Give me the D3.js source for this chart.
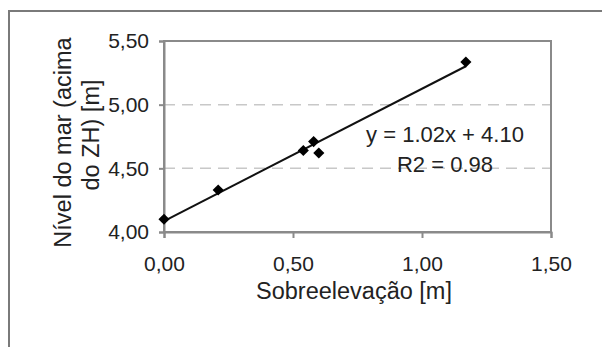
<!DOCTYPE html>
<html>
<head>
<meta charset="utf-8">
<script src="https://cdn.jsdelivr.net/npm/d3@7"></script>
<style>
  body { margin: 0; background: #fff; }
  text { font-family: "Liberation Sans", Arial, sans-serif; fill: #222; }
</style>
</head>
<body>
<svg id="chart" width="602" height="347"></svg>
<script>
// dados
const sobreelevacao = [0.00, 0.21, 0.54, 0.58, 0.60, 1.17]
const nivelMar = [4.10, 4.33, 4.64, 4.71, 4.62, 5.335]
const xTicks = [0, 0.5, 1.0, 1.5]
const yTicks = [4.0, 4.5, 5.0, 5.5]
const gridValues = [4.5, 5.0]
const equationLines = ['y = 1.02x + 4.10', 'R2 = 0.98']

const W = 602
const H = 347
const margin = { left: 164, top: 41, right: 51, bottom: 115 }
const fmt = v => d3.format('.2f')(v).replace('.', ',')

const svg = d3.select('#chart')

// moldura externa (só topo e esquerda visíveis)
svg.append('path')
  .attr('d', `M9,${H}V11H${W}`)
  .attr('fill', 'none')
  .attr('stroke', '#7a7a7a')
  .attr('stroke-width', 2)

const x = d3.scaleLinear().domain([0, 1.5]).range([margin.left, W - margin.right])
const y = d3.scaleLinear().domain([4.0, 5.5]).range([H - margin.bottom, margin.top])

const g = svg.append('g')

// linhas de grade tracejadas
g.selectAll('line.grid').data(gridValues)
  .join('line')
  .attr('class', 'grid')
  .attr('x1', x(0)).attr('x2', x(1.5))
  .attr('y1', d => y(d)).attr('y2', d => y(d))
  .attr('stroke', '#c8c8c8')
  .attr('stroke-width', 1.5)
  .attr('stroke-dasharray', '11,7')

// borda da área do gráfico
g.append('rect')
  .attr('x', x(0)).attr('y', y(5.5))
  .attr('width', x(1.5) - x(0)).attr('height', y(4.0) - y(5.5))
  .attr('fill', 'none')
  .attr('stroke', '#8a8a8a')
  .attr('stroke-width', 2)

// eixos
const xAxis = g.append('g')
  .attr('transform', `translate(0,${y(4.0)})`)
  .call(d3.axisBottom(x).tickValues(xTicks).tickSize(6).tickFormat(fmt))
const yAxis = g.append('g')
  .attr('transform', `translate(${x(0)},0)`)
  .call(d3.axisLeft(y).tickValues(yTicks).tickSize(5).tickPadding(10).tickFormat(fmt))

;[xAxis, yAxis].forEach(a => {
  a.select('.domain').attr('stroke', '#8a8a8a').attr('stroke-width', 2)
  a.selectAll('.tick line').attr('stroke', '#8a8a8a').attr('stroke-width', 2)
  a.selectAll('.tick text')
    .attr('font-family', '"Liberation Sans", Arial, sans-serif')
    .attr('font-size', 21)
    .attr('fill', '#222')
})
xAxis.selectAll('.tick text').attr('y', 39).attr('dy', 0)

// linha de tendência (mínimos quadrados)
const mx = d3.mean(sobreelevacao)
const my = d3.mean(nivelMar)
const slope = d3.sum(sobreelevacao, (v, i) => (v - mx) * (nivelMar[i] - my)) /
  d3.sum(sobreelevacao, v => (v - mx) * (v - mx))
const intercept = my - slope * mx
const xExt = d3.extent(sobreelevacao)
g.append('line')
  .attr('x1', x(xExt[0])).attr('y1', y(intercept + slope * xExt[0]))
  .attr('x2', x(xExt[1])).attr('y2', y(intercept + slope * xExt[1]))
  .attr('stroke', '#111')
  .attr('stroke-width', 2)

// pontos (losangos)
const diamond = d3.symbol().type(d3.symbolSquare).size(62)
g.selectAll('path.pt').data(sobreelevacao)
  .join('path')
  .attr('class', 'pt')
  .attr('d', diamond)
  .attr('transform', (d, i) => `translate(${x(d)},${y(nivelMar[i])}) rotate(45)`)
  .attr('fill', '#000')

// equação
svg.append('text')
  .attr('x', 445).attr('y', 142)
  .attr('text-anchor', 'middle')
  .attr('font-size', 22)
  .selectAll('tspan').data(equationLines)
  .join('tspan')
  .attr('x', 445)
  .attr('dy', (d, i) => i === 0 ? 0 : 30)
  .text(d => d)

// títulos dos eixos
svg.append('text')
  .attr('x', 354).attr('y', 299)
  .attr('text-anchor', 'middle')
  .attr('font-size', 23.5)
  .text('Sobreelevação [m]')

svg.append('text')
  .attr('transform', 'translate(71,142.5) rotate(-90)')
  .attr('text-anchor', 'middle')
  .attr('font-size', 23.5)
  .text('Nível do mar (acima')
svg.append('text')
  .attr('transform', 'translate(99,135) rotate(-90)')
  .attr('text-anchor', 'middle')
  .attr('font-size', 23.5)
  .text('do ZH) [m]')
</script>
</body>
</html>
